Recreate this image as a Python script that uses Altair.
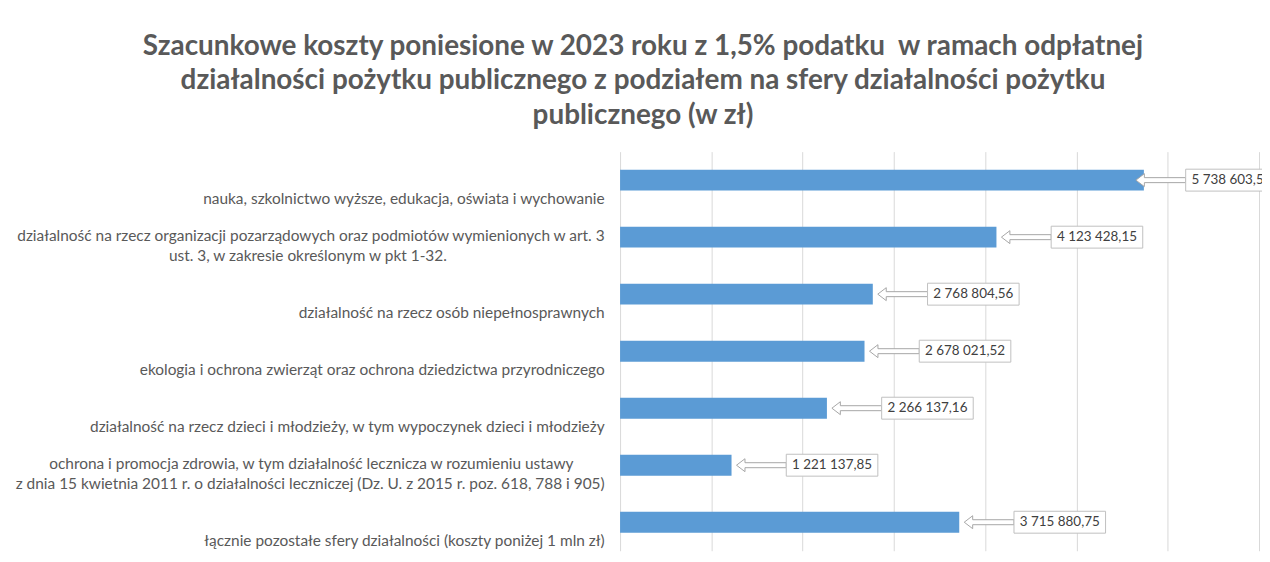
import altair as alt
import pandas as pd

title_lines = [
    "Szacunkowe koszty poniesione w 2023 roku z 1,5% podatku \u00a0w ramach odpłatnej",
    "działalności pożytku publicznego z podziałem na sfery działalności pożytku",
    "publicznego (w zł)",
]

categories = [
    ["nauka, szkolnictwo wyższe, edukacja, oświata i wychowanie"],
    ["działalność na rzecz organizacji pozarządowych oraz podmiotów wymienionych w art. 3",
     "ust. 3, w zakresie określonym w pkt 1-32."],
    ["działalność na rzecz osób niepełnosprawnych"],
    ["ekologia i ochrona zwierząt oraz ochrona dziedzictwa przyrodniczego"],
    ["działalność na rzecz dzieci i młodzieży, w tym wypoczynek dzieci i młodzieży"],
    ["ochrona i promocja zdrowia, w tym działalność lecznicza w rozumieniu ustawy",
     "z dnia 15 kwietnia 2011 r. o działalności leczniczej (Dz. U. z 2015 r. poz. 618, 788 i 905)"],
    ["łącznie pozostałe sfery działalności (koszty poniżej 1 mln zł)"],
]

values = [5738603.57, 4123428.15, 2768804.56, 2678021.52, 2266137.16, 1221137.85, 3715880.75]

x_ticks = [0, 1000000, 2000000, 3000000, 4000000, 5000000, 6000000, 7000000]

FONT = "Lato"
LABEL_SIZE = 15.5
NBSP = "\u00a0"
ZWSP = "\u200b"  # keeps trailing no-break spaces from being trimmed
SPACE_EM = 0.265  # rendered width of a no-break space, in em

# right-side padding (px) per line so that the lines of the two-line
# labels appear centred on each other, as in the original
pads = {1: [0, 166], 5: [31, 0]}


def label_text(i, lines):
    if i in pads:
        out = []
        for ln, px in zip(lines, pads[i]):
            n = int(round(px / (SPACE_EM * LABEL_SIZE)))
            out.append(ln + (NBSP * n + ZWSP if n else ""))
        return "|".join(out)
    return "|".join(lines)


def fmt(v):
    s = f"{v:,.2f}"
    return s.replace(",", " ").replace(".", ",")


df = pd.DataFrame({
    "cat": [label_text(i, c) for i, c in enumerate(categories)],
    "value": values,
    "label": [fmt(v) for v in values],
})

order = list(df["cat"])

y_enc = alt.Y(
    "cat:N",
    sort=order,
    title=None,
    axis=alt.Axis(
        domain=False,
        ticks=False,
        grid=False,
        labelPadding=16,
        labelFont=FONT,
        labelFontSize=LABEL_SIZE,
        labelColor="#595959",
        labelLimit=640,
        labelExpr="split(datum.label, '|')",
        labelBaseline="bottom",
        labelOffset={"condition": {"test": "indexof(datum.label, '|') >= 0", "value": 7}, "value": 27},
        labelLineHeight=20,
    ),
)

x_scale = alt.Scale(domain=[0, 7000000], nice=False)
x_enc = alt.X(
    "value:Q",
    scale=x_scale,
    title=None,
    axis=alt.Axis(
        values=x_ticks,
        labels=False,
        ticks=False,
        domain=False,
        grid=True,
        gridColor="#D9D9D9",
        gridWidth=1,
    ),
)

base = alt.Chart(df)
y_plain = alt.Y("cat:N", sort=order)

bars = base.mark_bar(size=21, color="#5B9BD5").encode(x=x_enc, y=y_enc)

arrow_path = "M -1 0 L -0.66 -0.26 L -0.66 -0.1 L 1 -0.1 L 1 0.1 L -0.66 0.1 L -0.66 0.26 Z"


def callouts(src, shift):
    """Excel-style callout: hollow arrow + framed value label."""
    arrows = src.mark_point(
        shape=arrow_path, size=2500, filled=True, fill="white",
        stroke="#A6A6A6", strokeWidth=1, opacity=1, xOffset=30 + shift,
    ).encode(x="value:Q", y=y_plain)
    boxes = src.mark_bar(
        size=22, fill="white", stroke="#BFBFBF", strokeWidth=1,
        xOffset=55 + shift, x2Offset=147 + shift,
    ).encode(x="value:Q", x2="value:Q", y=y_plain)
    texts = src.mark_text(
        dx=101 + shift, align="center", baseline="middle", font=FONT,
        fontSize=13.5, color="#404040",
    ).encode(x="value:Q", y=y_plain, text="label:N")
    return [arrows, boxes, texts]


# labels near the right edge were squeezed closer to their bar
normal = base.transform_filter("datum.value < 5000000")
squeezed = base.transform_filter("datum.value >= 5000000")

chart = (
    alt.layer(bars, *callouts(normal, 0), *callouts(squeezed, -13))
    .properties(
        width=642,
        height=401,
        autosize=alt.AutoSizeParams(type="none"),
        padding={"left": 615, "top": 143, "right": 3, "bottom": 8},
        title=alt.TitleParams(
            text=title_lines,
            font=FONT,
            fontSize=28,
            fontWeight="bold",
            color="#595959",
            anchor="middle",
            dx=-298,
            lineHeight=34.5,
            offset=22,
        ),
        background="white",
    )
    .configure_view(stroke=None)
)

chart.save("out.html", embed_options={"renderer": "svg", "actions": False})
